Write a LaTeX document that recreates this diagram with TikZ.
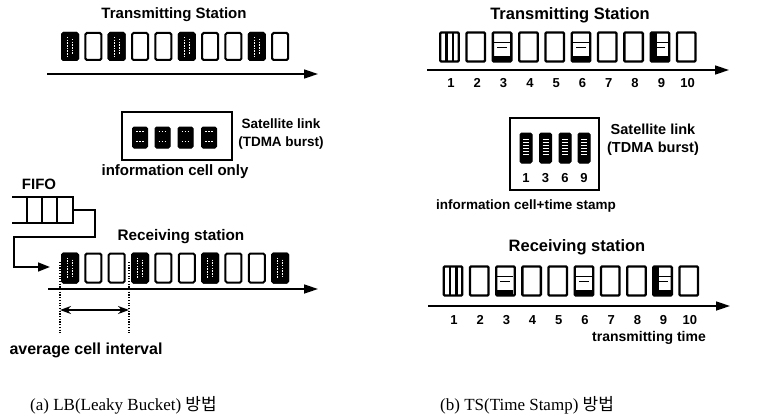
\documentclass[tikz,border=0pt]{standalone}
\usepackage{fontspec}
\setmainfont{Liberation Sans}
\newfontfamily\capfont{Liberation Serif}
\newfontfamily\krfont{Noto Sans CJK KR}
\usetikzlibrary{arrows.meta}

\tikzset{
  lbl/.style={font=\bfseries\fontsize{#1}{#1}\selectfont, inner sep=0pt},
  lbl/.default=15,
  numlbl/.style={font=\bfseries\fontsize{13}{15}\selectfont, inner sep=0pt},
  caplbl/.style={font=\capfont\fontsize{17}{19}\selectfont, inner sep=0pt},
  timeaxis/.style={line width=1.7pt, -{Triangle[length=14pt,width=9pt]}},
  lcell/.style={draw, line width=2pt, rounded corners=1.5pt,
                minimum width=16pt, minimum height=27pt, inner sep=0pt},
  lcellb/.style={lcell, minimum height=29pt},
  dark/.style={fill=black},
  rcell/.style={draw, line width=2.3pt, rounded corners=1pt,
                minimum width=18.5pt, minimum height=29pt, inner sep=0pt},
  boxcell/.style={draw, fill=black, line width=1pt, rounded corners=1.5pt,
                  minimum width=13pt, minimum height=30pt, inner sep=0pt},
  stripe/.style={white, line width=0.9pt, dash pattern=on 1.5pt off 1.2pt},
  hstripe/.style={white, line width=1pt},
  queue/.style={line width=1.6pt},
  link/.style={line width=1.7pt},
  guide/.style={line width=1.4pt, dash pattern=on 1.2pt off 1.5pt},
}

% white dotted streaks inside a dark cell
\newcommand\streaks[1]{%
  \draw[stripe] ([xshift=-2.5pt,yshift=-5pt]#1.north) -- ([xshift=-2.5pt,yshift=5pt]#1.south);
  \draw[stripe] ([xshift=2.5pt,yshift=-7pt]#1.north) -- ([xshift=2.5pt,yshift=7pt]#1.south);
}
% cell 1 pattern on the time-stamp rows: two thick vertical bars
\newcommand\barcell[1]{%
  \fill ([xshift=-4.5pt,yshift=-2pt]#1.north) rectangle ([xshift=-2pt,yshift=2pt]#1.south);
  \fill ([xshift=2pt,yshift=-2pt]#1.north) rectangle ([xshift=4.5pt,yshift=2pt]#1.south);
}
% cells 3, 6, 9: horizontal bands with a dark lower part
\newcommand\bandcell[1]{%
  \fill ([xshift=-8pt,yshift=7pt]#1.south) rectangle ([xshift=8pt,yshift=1pt]#1.south);
  \draw[line width=1.3pt] ([xshift=-8pt,yshift=-11pt]#1.north) -- ([xshift=8pt,yshift=-11pt]#1.north);
  \draw[line width=1pt] ([xshift=-5pt,yshift=-16pt]#1.north) -- ([xshift=5pt,yshift=-16pt]#1.north);
}
% white stripes in the burst cells
\newcommand\burststripes[1]{%
  \foreach \k in {7,10,13,16,19,22}{
    \draw[hstripe] ([xshift=-3pt,yshift=-\k pt]#1.north) -- ([xshift=3pt,yshift=-\k pt]#1.north);}
}

\begin{document}
\begin{tikzpicture}[x=1pt,y=-1pt]
\useasboundingbox[fill=white] (0,0) rectangle (771,420);

%% ---------------- (a) Leaky Bucket ----------------
\node[lbl] (lts) at (174,15) {Transmitting Station};
\foreach \i in {1,...,10}{
  \node[lcell] (lt\i) at ({70+23.35*(\i-1)},46.5) {};
}
\foreach \i in {1,3,6,9}{ \node[lcell,dark] (ltd\i) at (lt\i) {}; \streaks{ltd\i} }
\coordinate (lta0) at (47,74);
\coordinate (lta1) at (318,74);
\draw[timeaxis] (lta0) -- (lta1);

% satellite burst
\node[draw, line width=2pt, minimum width=110pt, minimum height=48pt, inner sep=0pt] (lbox) at (177,135.5) {};
\foreach \i/\x in {1/140,2/162.5,3/185.5,4/209}{
  \node[boxcell, minimum height=21pt, minimum width=15pt] (lb\i) at (\x,137.5) {};
  \foreach \k in {5,15}{
    \draw[white, line width=0.8pt, dash pattern=on 1.5pt off 1.5pt] ([xshift=-4pt,yshift=-\k pt]lb\i.north) -- ([xshift=4pt,yshift=-\k pt]lb\i.north);}
}
\node[lbl=13.5, align=center] (lsat) at (281,134) {Satellite link\\[4pt](TDMA burst)};
\node[lbl] (linfo) at (175,172) {information cell only};

% FIFO buffer
\node[lbl] (fifo) at (39,184) {FIFO};
\coordinate (q0) at (12,197);
\coordinate (q1) at (73,223);
\draw[queue] (q0) -- (q0 -| q1) -- (q1) -- (q1 -| q0);
\foreach \x in {27,42,57}{ \draw[queue] (\x,197) -- (\x,223); }
\coordinate (qout) at (73,210);
\coordinate (qa) at (95,210);
\coordinate (qb) at (95,237);
\coordinate (qc) at (14,237);
\coordinate (qd) at (14,267);
\node[lbl=15.3] (lrs) at (181,237) {Receiving station};

\foreach \i in {1,...,10}{
  \node[lcellb] (lr\i) at ({70+23.35*(\i-1)},268) {};
}
\foreach \i in {1,4,7,10}{ \node[lcellb,dark] (lrd\i) at (lr\i) {}; \streaks{lrd\i} }
\draw[link, -{Triangle[length=12pt,width=9pt]}] (qout) -- (qa) -- (qb) -- (qc) -- (qd) -- ([xshift=-11pt]lr1.west |- qd);

\coordinate (lra0) at (48,289);
\coordinate (lra1) at (318,289);
\draw[timeaxis] (lra0) -- (lra1);

% average cell interval
\coordinate (g1t) at (60,262);
\coordinate (g1b) at (60,333);
\coordinate (g2t) at (129,262);
\coordinate (g2b) at (129,333);
\draw[guide] (g1t) -- (g1b);
\draw[guide] (g2t) -- (g2b);
\coordinate (ia) at (60,310);
\coordinate (ib) at (129,310);
\draw[line width=1.5pt, {Stealth[length=11pt,width=8pt]}-{Stealth[length=11pt,width=8pt]}] (ia) -- (ib);
\node[lbl=16] (avg) at (86,350) {average cell interval};

\node[caplbl, anchor=west] (capa) at (30,405) {(a) LB(Leaky Bucket) {\krfont 방법}};

%% ---------------- (b) Time Stamp ----------------
\node[lbl=16.5] (rts) at (570,15) {Transmitting Station};
\foreach \i in {1,...,10}{
  \node[rcell] (rt\i) at ({449.5+26.3*(\i-1)},47) {};
  \node[numlbl] (rtn\i) at ({451+26.3*(\i-1)},83) {\i};
}
\barcell{rt1}
\bandcell{rt3}
\bandcell{rt6}
\bandcell{rt9}
\fill ([xshift=1pt,yshift=-1pt]rt9.north west) rectangle ([xshift=7pt,yshift=1pt]rt9.south west);
\coordinate (rta0) at (427,70);
\coordinate (rta1) at (729,70);
\draw[timeaxis] (rta0) -- (rta1);

% satellite burst with time stamps
\node[draw, line width=2pt, minimum width=89pt, minimum height=72pt, inner sep=0pt] (rbox) at (554.5,154) {};
\foreach \i/\x/\n in {1/526/1,2/545.5/3,3/565/6,4/584/9}{
  \node[boxcell, minimum width=12pt] (rb\i) at (\x,148) {};
  \burststripes{rb\i}
  \node[numlbl] (rbn\i) at (\x,178) {\n};
}
\node[lbl=14.5, align=center] (rsat) at (653,140) {Satellite link\\[4pt](TDMA burst)};
\node[lbl=13.5] (rinfo) at (526,206) {information cell+time stamp};

\node[lbl=16.5] (rrs) at (577,247) {Receiving station};
\foreach \i in {1,...,10}{
  \node[rcell] (rr\i) at ({453+26.2*(\i-1)},281) {};
  \node[numlbl] (rrn\i) at ({454+26.2*(\i-1)},320) {\i};
}
\barcell{rr1}
\bandcell{rr3}
\bandcell{rr6}
\bandcell{rr9}
\fill ([xshift=1pt,yshift=-1pt]rr9.north west) rectangle ([xshift=7pt,yshift=1pt]rr9.south west);
\coordinate (rra0) at (428,306);
\coordinate (rra1) at (730,306);
\draw[timeaxis] (rra0) -- (rra1);
\node[lbl=14, anchor=east] (rtime) at (706,338) {transmitting time};

\node[caplbl, anchor=west] (capb) at (440,405) {(b) TS(Time Stamp) {\krfont 방법}};
\end{tikzpicture}
\end{document}
